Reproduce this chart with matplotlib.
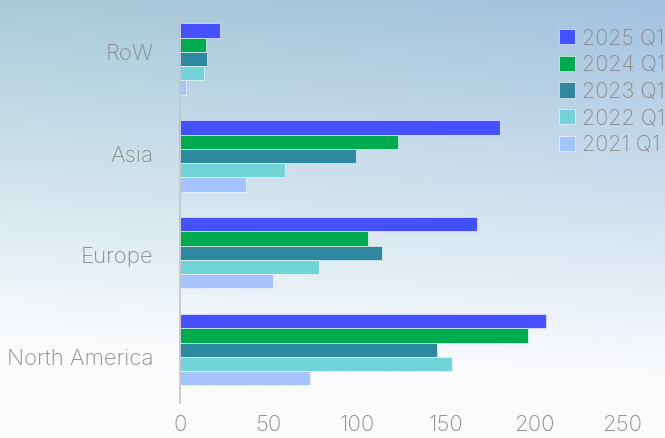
import numpy as np
import matplotlib.pyplot as plt
from matplotlib.patches import Patch

regions = ["North America", "Europe", "Asia", "RoW"]
series = ["2025 Q1", "2024 Q1", "2023 Q1", "2022 Q1", "2021 Q1"]
q2025 = [207, 168, 181, 22.6]
q2024 = [196.5, 106, 123, 14.7]
q2023 = [145, 114, 99.5, 15.3]
q2022 = [153.5, 78.5, 59.5, 13.6]
q2021 = [73.5, 52.5, 37.5, 3.4]
colors = ["#4550ff", "#00aa4f", "#2e88a0", "#72d3d9", "#a5c3ff"]

plt.rcParams['font.family'] = ['Inter', 'DejaVu Sans']
plt.rcParams['font.weight'] = 'light'

fig = plt.figure(figsize=(6.65, 4.38), dpi=100)

# background gradient
bg = fig.add_axes([0, 0, 1, 1], zorder=-10)
h, w = 200, 300
yy, xx = np.mgrid[0:1:h * 1j, 0:1:w * 1j]
top = np.array([158, 198, 214]) / 255
top_r = np.array([162, 194, 224]) / 255
bottom = np.array([250, 251, 253]) / 255
t = np.clip(yy * 1.15 + (1 - xx) * 0.1, 0, 1)[..., None]
topc = top * (1 - xx[..., None]) + top_r * xx[..., None]
img = topc * (1 - t) + bottom * t
bg.imshow(img, aspect='auto', extent=[0, 1, 0, 1])
bg.axis('off')

ax = fig.add_axes([0.2707, 0.08, 0.7293, 0.909])
ax.patch.set_alpha(0)

y = np.arange(len(regions))
bh = 0.147
data = [q2025, q2024, q2023, q2022, q2021]
for i, (vals, c, lab) in enumerate(zip(data, colors, series)):
    ax.barh(y + (2 - i) * bh, vals, height=bh, color=c, label=lab,
            edgecolor='white', linewidth=0.4)

ax.set_xlim(0, 274)
ax.set_ylim(-0.55, 3.56)
# category labels sit a little more spread out than the bar groups
ax.set_yticks(y * 1.05 - 0.075)
ax.set_yticklabels(regions)
ax.set_xticks([0, 50, 100, 150, 200, 250])
for s in ['top', 'right', 'bottom']:
    ax.spines[s].set_visible(False)
ax.spines['left'].set_color('#c4c4c4')
ax.spines['left'].set_linewidth(1.2)
ax.tick_params(axis='both', length=0, labelsize=16, colors='#8a8a8a')
ax.tick_params(axis='y', pad=19)
ax.tick_params(axis='x', pad=9)

handles = [Patch(facecolor=c, edgecolor='white', linewidth=0.4) for c in colors]
leg = fig.legend(handles, series, loc='upper left', bbox_to_anchor=(0.841, 0.936),
                 frameon=False, fontsize=15.5, labelcolor='#8a8a8a',
                 handlelength=0.72, handleheight=0.72, handletextpad=0.33,
                 labelspacing=0.31, borderaxespad=0, borderpad=0)

fig.savefig('out.png', dpi=100)
